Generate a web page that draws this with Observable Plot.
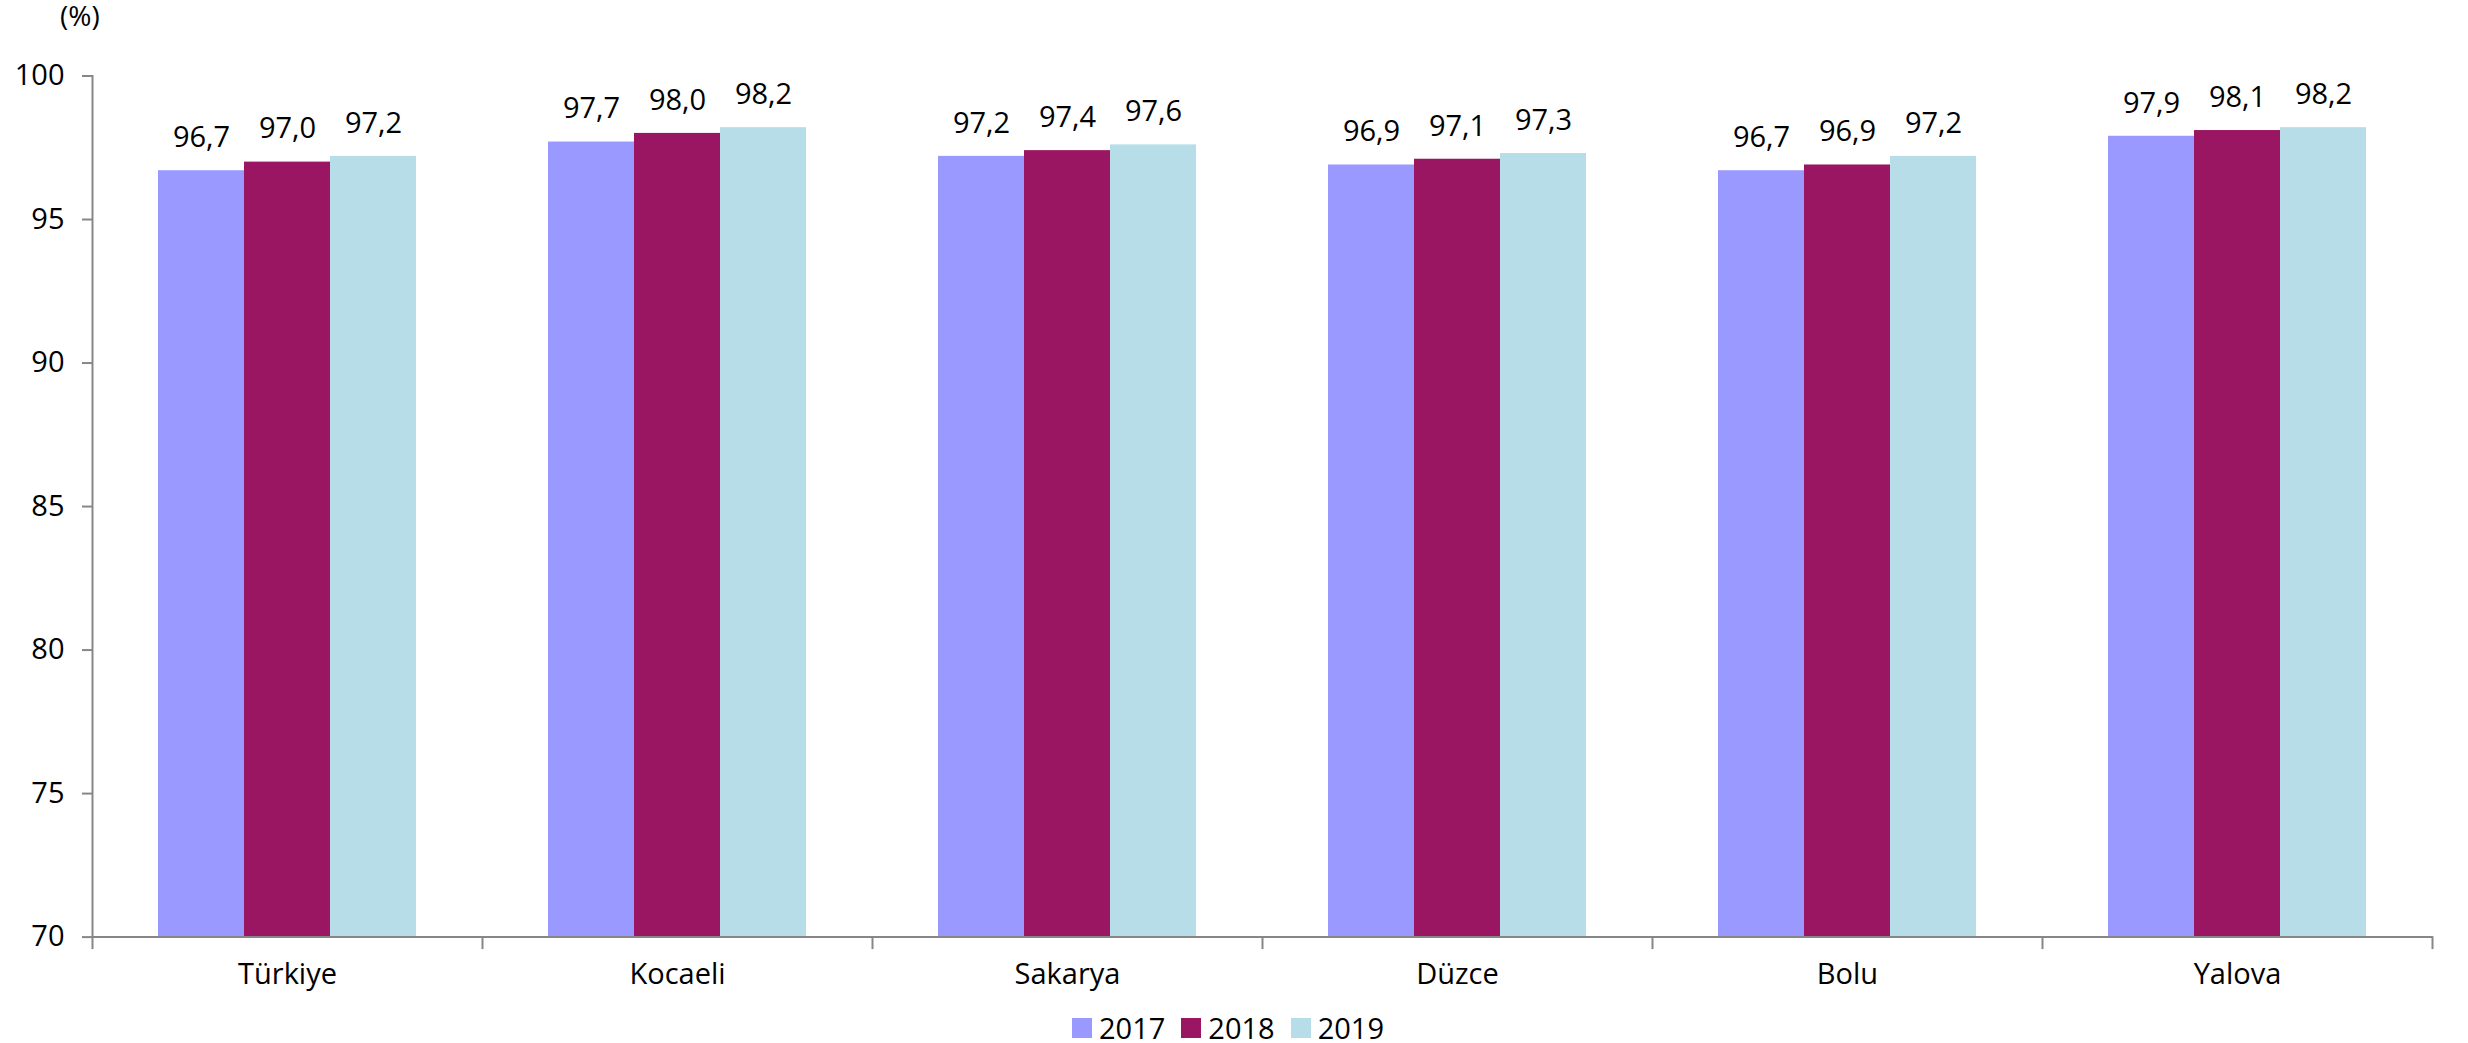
<!DOCTYPE html>
<html>
<head>
<meta charset="utf-8">
<script src="https://cdn.jsdelivr.net/npm/d3@7"></script>
<script src="https://cdn.jsdelivr.net/npm/@observablehq/plot@0.6"></script>
<style>
  html, body { margin: 0; padding: 0; background: #fff; }
  body { width: 2468px; height: 1043px; position: relative; overflow: hidden; font-family: "Open Sans", sans-serif; color: #000; }
  #unit { position: absolute; left: 60px; top: -4px; font-size: 28px; z-index: 2; }
  #chart { position: absolute; left: 0; top: 0; z-index: 1; }
  #legend { position: absolute; top: 1008px; left: 0; width: 2456px; display: flex; justify-content: center; align-items: center; gap: 0; font-size: 29px; z-index: 2; }
  .item { display: flex; align-items: center; margin: 0 8px; }
  .sw { width: 20px; height: 20px; margin-right: 7px; }
</style>
</head>
<body>
<div id="unit">(%)</div>
<div id="chart"></div>
<div id="legend"></div>
<script>
const regions = ["Türkiye", "Kocaeli", "Sakarya", "Düzce", "Bolu", "Yalova"];
const years = ["2017", "2018", "2019"];
const v2017 = [96.7, 97.7, 97.2, 96.9, 96.7, 97.9];
const v2018 = [97.0, 98.0, 97.4, 97.1, 96.9, 98.1];
const v2019 = [97.2, 98.2, 97.6, 97.3, 97.2, 98.2];
const yTicks = [70, 75, 80, 85, 90, 95, 100];
const colors = ["#9999ff", "#9b1662", "#b7dde8"];

const series = [v2017, v2018, v2019];
const data = regions.flatMap((r, i) => years.map((y, j) => ({region: r, year: y, value: series[j][i]})));
const fmt = v => d3.format(".1f")(v).replace(".", ",");
const axisColor = "#878787";

const W = 2468, H = 1000, mT = 75.5, mB = 63.4;
const plotH = H - mT - mB;

const chart = Plot.plot({
  width: W,
  height: H,
  marginLeft: 91,
  marginRight: 36,
  marginTop: mT,
  marginBottom: mB,
  style: {fontFamily: "Open Sans", fontSize: "29px", color: "#000", background: "#fff"},
  fx: {domain: regions, padding: 0, label: null},
  x: {domain: years, paddingInner: 0, paddingOuter: 0.756, axis: null},
  y: {domain: [70, 100], label: null},
  color: {domain: years, range: colors},
  marks: [
    Plot.barY(data, {fx: "region", x: "year", y1: 70, y2: "value", fill: "year"}),
    Plot.text(data, {fx: "region", x: "year", y: "value", text: d => fmt(d.value), dy: -33, fontSize: 29}),
    Plot.ruleY([70], {stroke: axisColor, strokeWidth: 2}),
    Plot.frame({anchor: "left", stroke: axisColor, strokeWidth: 2, facetAnchor: "left"}),
    Plot.frame({anchor: "left", stroke: axisColor, strokeWidth: 2, insetTop: plotH, insetBottom: -11}),
    Plot.frame({anchor: "right", stroke: axisColor, strokeWidth: 2, insetTop: plotH, insetBottom: -11, facetAnchor: "right"}),
    Plot.axisY({ticks: yTicks, tickSize: 10, fill: "none", stroke: axisColor, strokeWidth: 2, label: null}),
    Plot.axisY({ticks: yTicks, tickSize: 0, tickPadding: 28, fill: "#000", label: null, fontSize: 29}),
    Plot.axisFx({anchor: "bottom", tickSize: 0, tickPadding: 26, label: null, fontSize: 29})
  ]
});
document.getElementById("chart").appendChild(chart);

const legend = document.getElementById("legend");
years.forEach((y, i) => {
  const item = document.createElement("div");
  item.className = "item";
  const sw = document.createElement("div");
  sw.className = "sw";
  sw.style.background = colors[i];
  const t = document.createElement("span");
  t.textContent = y;
  item.appendChild(sw);
  item.appendChild(t);
  legend.appendChild(item);
});
</script>
</body>
</html>
